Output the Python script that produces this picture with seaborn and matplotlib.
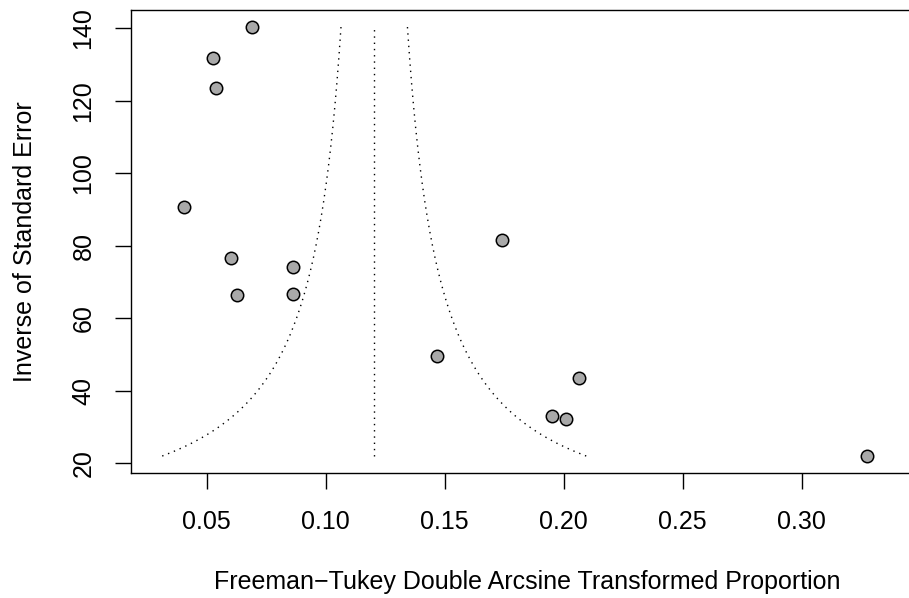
import numpy as np
import pandas as pd
import matplotlib
matplotlib.use("Agg")
import matplotlib.pyplot as plt
import seaborn as sns

# ------------------------------------------------------
# Data
# ------------------------------------------------------

# Freeman-Tukey double arcsine transformed proportions
effect = [0.0404, 0.0526, 0.0539, 0.0691, 0.0603, 0.0628, 0.0861, 0.0861,
          0.1466, 0.1742, 0.1953, 0.2009, 0.2065, 0.3274]

# inverse of standard error
inv_se = [90.6, 131.8, 123.6, 140.4, 76.6, 66.3, 74.1, 66.7,
          49.7, 81.6, 33.0, 32.1, 43.6, 22.0]

# pooled estimate and z value used for the pseudo confidence region
estimate = 0.1204
z_crit = 1.96

x_ticks = [0.05, 0.10, 0.15, 0.20, 0.25, 0.30]
y_ticks = [20, 40, 60, 80, 100, 120, 140]

df = pd.DataFrame({"effect": effect, "inv_se": inv_se})

# funnel lines span the observed precision range
y_funnel = np.linspace(min(inv_se), max(inv_se), 200)
left_funnel = estimate - z_crit / y_funnel
right_funnel = estimate + z_crit / y_funnel

# ------------------------------------------------------
# Plot
# ------------------------------------------------------

sns.set_style("ticks")
plt.rcParams["font.family"] = ["Liberation Sans", "DejaVu Sans"]
plt.rcParams["text.color"] = "black"
plt.rcParams["axes.labelcolor"] = "black"

W, H = 909, 598
fig = plt.figure(figsize=(W / 100, H / 100), dpi=100)
left_px, right_px, top_px, bottom_px = 131, 923, 10, 473.3
ax = fig.add_axes([left_px / W, 1 - bottom_px / H,
                   (right_px - left_px) / W, (bottom_px - top_px) / H])

dots = (0, (1, 3.5))
ax.plot(left_funnel, y_funnel, color="black", lw=1.0, linestyle=dots)
ax.plot(right_funnel, y_funnel, color="black", lw=1.0, linestyle=dots)
ax.plot([estimate, estimate], [min(inv_se), max(inv_se)],
        color="black", lw=1.0, linestyle=dots)

sns.scatterplot(data=df, x="effect", y="inv_se", ax=ax, s=80,
                color="#a9a9a9", edgecolor="black", linewidth=1.1, zorder=3)

ax.set_xlim(0.0182, 0.351)
ax.set_ylim(17.24, 145.05)
ax.set_xticks(x_ticks)
ax.set_xticklabels([f"{t:.2f}" for t in x_ticks])
ax.set_yticks(y_ticks)
ax.set_yticklabels([str(t) for t in y_ticks], rotation=90, va="center")

ax.tick_params(axis="both", length=11.5, width=1.0,
               labelsize=18, colors="black")
ax.tick_params(axis="x", pad=15)
ax.tick_params(axis="y", pad=14)
for sp in ax.spines.values():
    sp.set_visible(True)
    sp.set_linewidth(1.0)
    sp.set_color("black")

ax.set_xlabel("Freeman\u2212Tukey Double Arcsine Transformed Proportion",
              fontsize=18, va="center", color="black")
ax.set_ylabel("Inverse of Standard Error", fontsize=18, va="center",
              color="black")
ax.xaxis.set_label_coords(0.5, -0.234)
ax.yaxis.set_label_coords(-0.1338, 0.5)

fig.savefig("out.png", dpi=100)
